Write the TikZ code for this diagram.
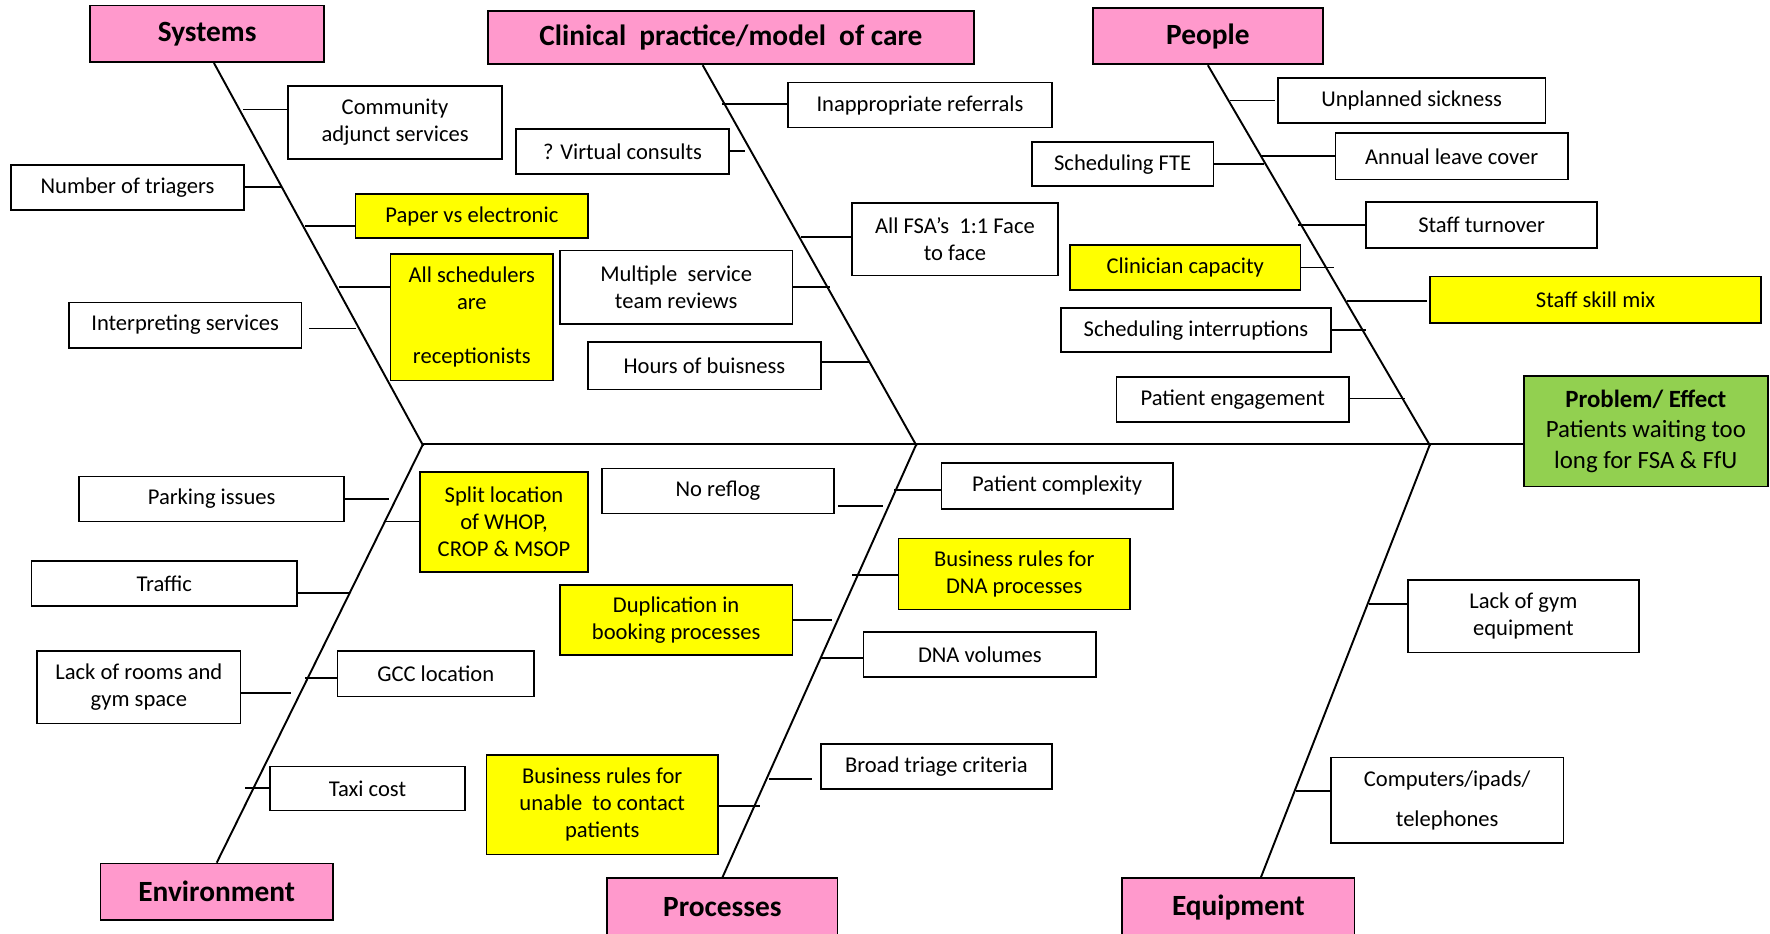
\documentclass[tikz,border=0pt]{standalone}
\usepackage{fontspec}
\setmainfont{Carlito}
\usepackage{tikz}
\definecolor{headpink}{RGB}{255,153,204}
\definecolor{probgreen}{RGB}{146,208,80}
\definecolor{hotyellow}{RGB}{255,255,0}
\tikzset{
	sz/.style 2 args={minimum width=#1pt, minimum height=#2pt},
	box/.style={draw, line width=1.5pt, inner sep=0pt, align=center, font=\fontsize{20}{24}\selectfont},
	hot/.style={box, fill=hotyellow},
	head/.style={draw, line width=1.5pt, fill=headpink, inner sep=0pt, font=\fontsize{26}{30}\selectfont\bfseries},
	bone/.style={line width=1.7pt},
}

\begin{document}
\begin{tikzpicture}[x=1pt, y=-1pt]
			%%%%% START %%%%%
			\useasboundingbox (0, 0) rectangle (1568, 827);
			
			\node[head, sz={207}{50}] (sys) at (183.5, 30) {Systems};
			\node[head, sz={431}{47}] (clin) at (647.5, 33.5) {Clinical\ \ practice/model\ \ of care};
			\node[head, sz={204}{50}] (ppl) at (1070, 32) {People};
			\node[head, sz={206}{50}] (env) at (192, 790) {Environment};
			\node[head, sz={204}{52}] (proc) at (640, 804) {Processes};
			\node[head, sz={206}{52}] (equip) at (1097, 804) {Equipment};
			
			\node[box, fill=probgreen, sz={216}{98}, font=\fontsize{22}{27}\selectfont] (prob) at (1458, 382)
				{\textbf{Problem/ Effect}\\Patients waiting too\\long for FSA \& FfU};
			
			\coordinate (j1) at (375, 393);
			\coordinate (j2) at (812, 393);
			\coordinate (j3) at (1267, 393);
			
			\draw[bone] (j1) -- (j1 -| prob.west);
			\draw[bone] ([xshift=6pt]sys.south) -- ([yshift=-2pt]j1);
			\draw[bone] ([xshift=-25pt]clin.south) -- ([yshift=-2pt]j2);
			\draw[bone] (ppl.south) -- ([yshift=-2pt]j3);
			\draw[bone] (j1) -- (env.north);
			\draw[bone] (j2) -- (proc.north);
			\draw[bone] (j3) -- ([xshift=20pt]equip.north);
			
			% systems
			\node[box, sz={190}{65}] (community) at (350, 108.5) {Community\\adjunct services};
			\node[box, sz={206}{40}] (triagers) at (113, 166) {Number of triagers};
			\node[hot, sz={206}{39}] (paper) at (418, 191.5) {Paper vs electronic};
			\node[hot, sz={144}{112}] (schedulers) at (418, 281) {All schedulers\\are\\[24pt]receptionists};
			\node[box, sz={206}{40}] (interp) at (164, 288) {Interpreting services};
			\draw[bone] (community.west |- 0,97) -- (215, 97);
			\draw[bone] (triagers.east |- 0,166) -- (250, 166);
			\draw[bone] (paper.west |- 0,200) -- (270, 200);
			\draw[bone] (schedulers.west |- 0,254) -- (300, 254);
			\draw[bone] ([xshift=6pt]interp.east |- 0,291) -- (315, 291);
			
			% clinical practice
			\node[box, sz={234}{40}] (referrals) at (815, 93) {Inappropriate referrals};
			\node[box, sz={189}{40}] (virtual) at (551.5, 134) {? Virtual consults};
			\node[box, sz={182}{64}] (facetoface) at (846, 212) {All FSA’s\ \ 1:1 Face\\to face};
			\node[box, sz={206}{65}] (reviews) at (599, 254.5) {Multiple\ \ service\\team reviews};
			\node[box, sz={206}{42}] (hours) at (624, 324) {Hours of buisness};
			\draw[bone] (referrals.west |- 0,92) -- (640, 92);
			\draw[bone] (virtual.east |- 0,134) -- (660, 134);
			\draw[bone] (facetoface.west |- 0,210) -- (710, 210);
			\draw[bone] (reviews.east |- 0,254) -- (735, 254);
			\draw[bone] (hours.east |- 0,321) -- (770, 321);
			
			% people
			\node[box, sz={237}{40}] (sickness) at (1250.5, 89) {Unplanned sickness};
			\node[box, sz={161}{39}] (fte) at (994.5, 145.5) {Scheduling FTE};
			\node[box, sz={206}{41}] (leave) at (1286, 138.5) {Annual leave cover};
			\node[box, sz={205}{41}] (turnover) at (1312.5, 199.5) {Staff turnover};
			\node[hot, sz={204}{40}] (capacity) at (1050, 237) {Clinician capacity};
			\node[hot, sz={293}{41}] (skillmix) at (1413.5, 265.5) {Staff skill mix};
			\node[box, sz={239}{39}] (interrupt) at (1059.5, 292.5) {Scheduling interruptions};
			\node[box, sz={206}{40}] (engage) at (1092, 354) {Patient engagement};
			\draw[bone] ([xshift=-2pt]sickness.west |- 0,89) -- (1090, 89);
			\draw[bone] (fte.east |- 0,145) -- (1120, 145);
			\draw[bone] (leave.west |- 0,138) -- (1117, 138);
			\draw[bone] (turnover.west |- 0,199) -- (1150, 199);
			\draw[bone] (capacity.east |- 0,237) -- (1182, 237);
			\draw[bone] ([xshift=-2pt]skillmix.west |- 0,267) -- (1193, 267);
			\draw[bone] (interrupt.east |- 0,292) -- (1210, 292);
			\draw[bone] (engage.east |- 0,353) -- (1245, 353);
			
			% environment
			\node[box, sz={235}{40}] (parking) at (187.5, 442) {Parking issues};
			\node[hot, sz={149}{89}] (split) at (446.5, 462.5) {Split location\\of WHOP,\\CROP \& MSOP};
			\node[box, sz={235}{40}] (traffic) at (145.5, 517) {Traffic};
			\node[box, sz={180}{64}] (rooms) at (123, 609) {Lack of rooms and\\gym space};
			\node[box, sz={174}{40}] (gcc) at (386, 597) {GCC location};
			\node[box, sz={173}{39}] (taxi) at (325.5, 698.5) {Taxi cost};
			\draw[bone] (parking.east |- 0,442) -- (345, 442);
			\draw[bone] (split.west |- 0,462) -- (340, 462);
			\draw[bone] (traffic.east |- 0,525) -- (310, 525);
			\draw[bone] (rooms.east |- 0,614) -- (258, 614);
			\draw[bone] (gcc.west |- 0,601) -- (270, 601);
			\draw[bone] (taxi.west |- 0,698) -- (217, 698);
			
			% processes
			\node[box, sz={206}{40}] (reflog) at (636, 435) {No reflog};
			\node[box, sz={205}{41}] (complexity) at (936.5, 430.5) {Patient complexity};
			\node[hot, sz={205}{63}] (dnarules) at (898.5, 508.5) {Business rules for\\DNA processes};
			\node[hot, sz={206}{62}] (duplication) at (599, 549) {Duplication in\\booking processes};
			\node[box, sz={206}{40}] (dnavol) at (868, 580) {DNA volumes};
			\node[box, sz={205}{40}] (triage) at (829.5, 679) {Broad triage criteria};
			\node[hot, sz={205}{88}] (unable) at (533.5, 713) {Business rules for\\unable\ \ to contact\\patients};
			\draw[bone] ([xshift=3pt]reflog.east |- 0,448) -- (782, 448);
			\draw[bone] (complexity.west |- 0,434) -- (792, 434);
			\draw[bone] (dnarules.west |- 0,509) -- (755, 509);
			\draw[bone] (duplication.east |- 0,549) -- (737, 549);
			\draw[bone] (dnavol.west |- 0,583) -- (727, 583);
			\draw[bone] ([xshift=-7pt]triage.west |- 0,690) -- (681, 690);
			\draw[bone] (unable.east |- 0,714) -- (673, 714);
			
			% equipment
			\node[box, sz={205}{64}] (gym) at (1349.5, 546) {Lack of gym\\equipment};
			\node[box, sz={206}{76}] (computers) at (1282, 709) {Computers/ipads/\\[11pt]telephones};
			\draw[bone] (gym.west |- 0,535) -- (1213, 535);
			\draw[bone] (computers.west |- 0,701) -- (1148, 701);
			
			%%%%% END %%%%%
\end{tikzpicture}
\end{document}
